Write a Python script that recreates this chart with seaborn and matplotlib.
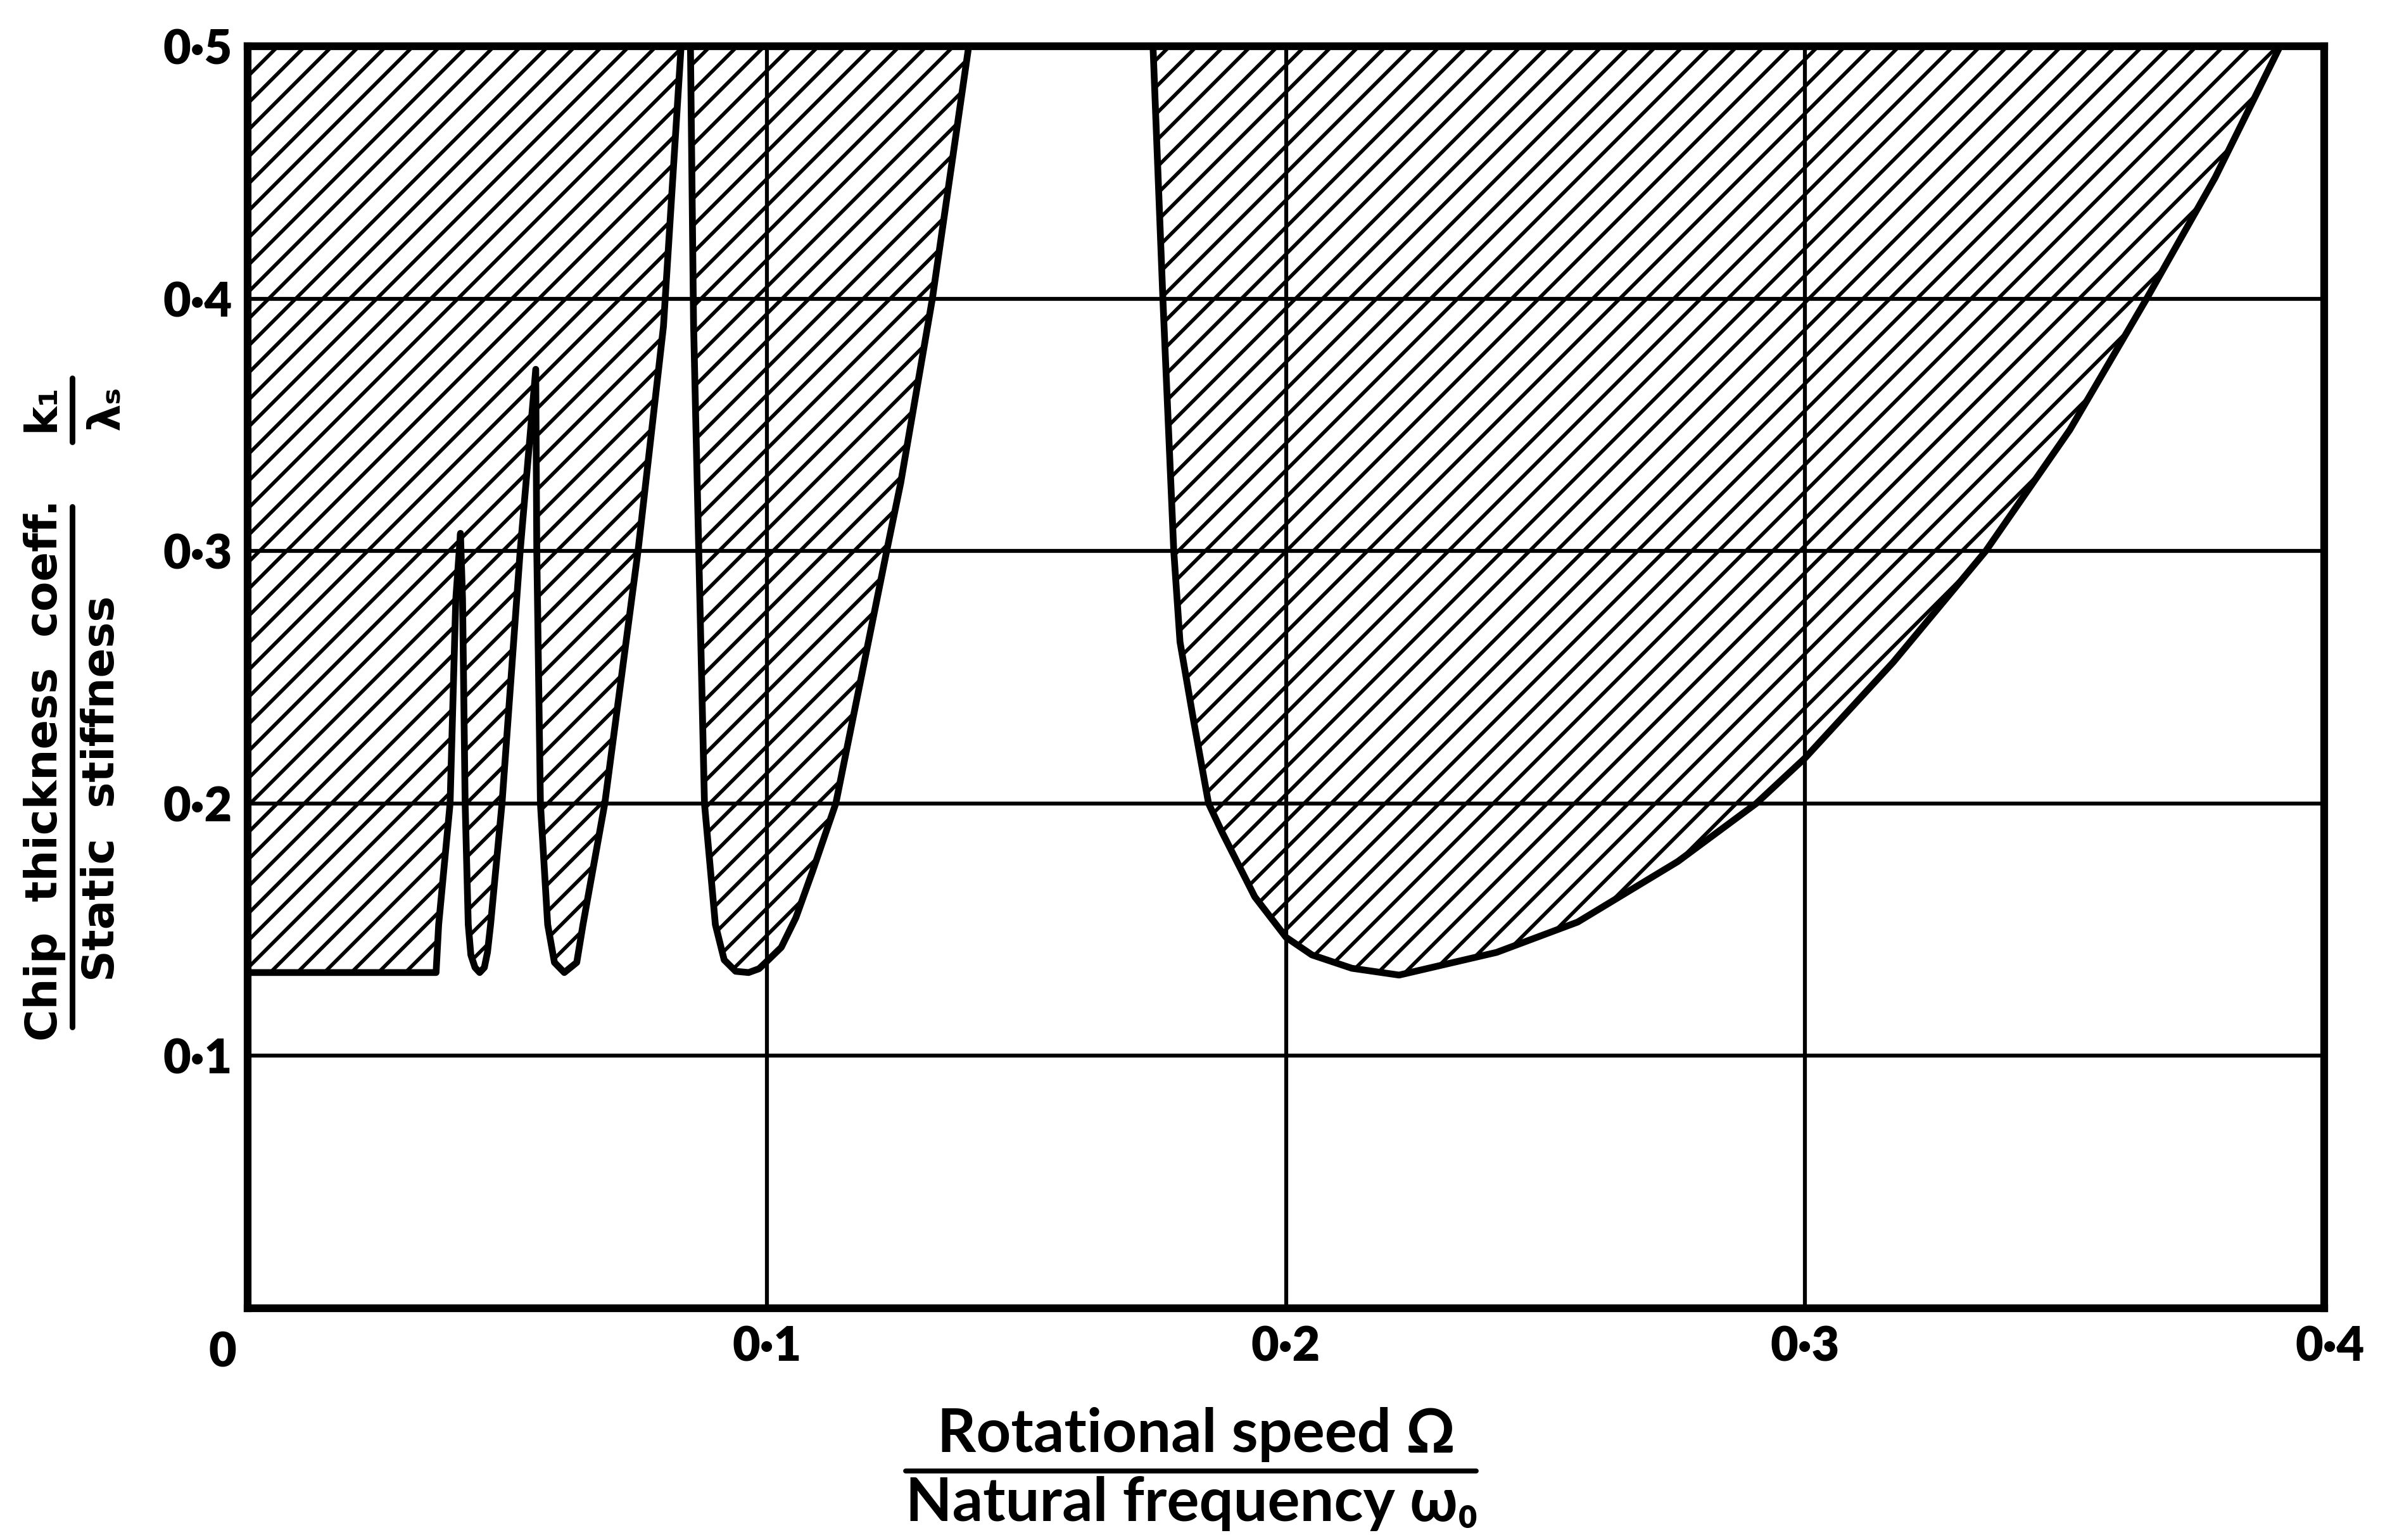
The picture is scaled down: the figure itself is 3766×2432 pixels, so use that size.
import matplotlib
matplotlib.use("Agg")
import matplotlib.pyplot as plt
import matplotlib.transforms as mtransforms
from matplotlib.lines import Line2D
import seaborn as sns
import pandas as pd

# ---------------- data ----------------
# boundary of the unstable (hatched) region, lobe by lobe
# flat asymptote + first two narrow lobes, ending where the curve leaves the chart
lobe_ab_x = [0.0, 0.0363, 0.0368, 0.0390, 0.0401, 0.0410, 0.0414, 0.0419, 0.0425,
             0.0430, 0.0438, 0.0447, 0.0456, 0.0462, 0.0468, 0.0490, 0.0525, 0.0555,
             0.0557, 0.0564, 0.0578, 0.0591, 0.0610, 0.0634, 0.0646, 0.0688, 0.0752,
             0.0801, 0.0835]
lobe_ab_y = [0.133, 0.133, 0.152, 0.200, 0.281, 0.307, 0.281, 0.200, 0.152,
             0.140, 0.135, 0.133, 0.135, 0.141, 0.152, 0.200, 0.300, 0.372,
             0.300, 0.200, 0.152, 0.137, 0.133, 0.137, 0.152, 0.200, 0.300,
             0.389, 0.500]
# third lobe
lobe_c_x = [0.0853, 0.0859, 0.0869, 0.0880, 0.0901, 0.0918, 0.0940, 0.0965, 0.0985,
            0.1000, 0.1028, 0.1056, 0.1088, 0.1133, 0.1231, 0.1258, 0.1319, 0.1389]
lobe_c_y = [0.500, 0.390, 0.300, 0.200, 0.152, 0.138, 0.1335, 0.133, 0.1345,
            0.1374, 0.143, 0.1547, 0.173, 0.200, 0.300, 0.327, 0.400, 0.500]
# main (widest) lobe
lobe_d_x = [0.1744, 0.1763, 0.1784, 0.1796, 0.1822, 0.1851, 0.1877, 0.1940, 0.2000,
            0.2050, 0.2127, 0.2218, 0.2406, 0.2562, 0.2755, 0.2906, 0.3000, 0.3170,
            0.3348, 0.3510, 0.3658, 0.3790, 0.3915]
lobe_d_y = [0.500, 0.400, 0.300, 0.264, 0.233, 0.200, 0.1886, 0.163, 0.147,
            0.140, 0.1347, 0.132, 0.141, 0.153, 0.177, 0.200, 0.218, 0.256,
            0.300, 0.348, 0.400, 0.448, 0.500]

x_ticks = [0.0, 0.1, 0.2, 0.3, 0.4]
x_tick_labels = ["0", "0·1", "0·2", "0·3", "0·4"]
y_ticks = [0.1, 0.2, 0.3, 0.4, 0.5]
y_tick_labels = ["0·1", "0·2", "0·3", "0·4", "0·5"]

x_num_label = "Rotational speed Ω"
x_den_label = "Natural frequency ω₀"
y_num_label = "Chip  thickness  coeff."
y_den_label = "Static  stiffness"
y_sym_num = "k₁"
y_sym_den = "λₛ"

# ---------------- styling ----------------
DPI = 128
S = 160 / DPI          # point sizes below were tuned at 160 dpi

sns.set_theme(style="white")
plt.rcParams["font.family"] = ["Lato", "DejaVu Sans"]
plt.rcParams["hatch.linewidth"] = 2.6 * S

fig = plt.figure(figsize=(3766 / DPI, 2432 / DPI), dpi=DPI)
fig.patch.set_facecolor("white")
ax = fig.add_axes([391 / 3766, 1 - 2066 / 2432, (3670 - 391) / 3766, (2066 - 73) / 2432])
ax.set_facecolor("white")

lobes = [(lobe_ab_x, lobe_ab_y), (lobe_c_x, lobe_c_y), (lobe_d_x, lobe_d_y)]
for lx, ly in lobes:
    df = pd.DataFrame({"x": lx, "y": ly})
    ax.fill_between(df["x"], df["y"], 0.5, facecolor="none", edgecolor="black",
                    hatch="/", linewidth=0, zorder=1)
    sns.lineplot(data=df, x="x", y="y", sort=False, estimator=None, ax=ax,
                 color="black", linewidth=4.8 * S, zorder=4,
                 solid_joinstyle="round", solid_capstyle="round")

ax.set_xlim(0, 0.4)
ax.set_ylim(0, 0.5)
ax.set_xticks(x_ticks)
ax.set_yticks(y_ticks)
ax.set_xticklabels(x_tick_labels)
ax.set_yticklabels(y_tick_labels)
ax.grid(True, color="black", linewidth=2.8 * S)
ax.set_axisbelow(True)
ax.tick_params(axis="both", length=0, labelsize=34 * S, colors="black")
ax.tick_params(axis="x", pad=12 * S)
ax.tick_params(axis="y", pad=11 * S)
for lab in ax.get_xticklabels() + ax.get_yticklabels():
    lab.set_fontweight("heavy")
for sp in ax.spines.values():
    sp.set_visible(True)
    sp.set_color("black")
    sp.set_linewidth(5.5 * S)
ax.set_xlabel("")
ax.set_ylabel("")

# shift the "0" and "0·4" x labels like in the reference
xl = ax.get_xticklabels()
xl[0].set_transform(xl[0].get_transform() +
                    mtransforms.ScaledTranslation(-18 * S / 72, -4 * S / 72, fig.dpi_scale_trans))
xl[-1].set_transform(xl[-1].get_transform() +
                     mtransforms.ScaledTranslation(4 * S / 72, 0, fig.dpi_scale_trans))

# ---------------- x label as a fraction ----------------
fig.text(0.5015, 0.0685, x_num_label, ha="center", va="center", fontsize=43 * S,
         fontweight="bold", color="black")
fig.add_artist(Line2D([0.3797, 0.6190], [0.045, 0.045], transform=fig.transFigure,
                      color="black", linewidth=3.5 * S))
fig.text(0.4998, 0.0235, x_den_label, ha="center", va="center", fontsize=43 * S,
         fontweight="bold", color="black")

# ---------------- y label as a fraction ----------------
yfont = ["Liberation Sans Narrow", "DejaVu Sans"]
fig.text(0.0186, 0.500, y_num_label, rotation=90, ha="center", va="center",
         fontsize=31 * S, fontweight="bold", family=yfont, color="black")
fig.add_artist(Line2D([0.0304, 0.0304], [0.333, 0.671], transform=fig.transFigure,
                      color="black", linewidth=4 * S))
fig.text(0.0425, 0.488, y_den_label, rotation=90, ha="center", va="center",
         fontsize=31 * S, fontweight="bold", family=yfont, color="black")

fig.text(0.0175, 0.735, y_sym_num, rotation=90, ha="center", va="center",
         fontsize=31 * S, fontweight="bold", family=yfont, color="black")
fig.add_artist(Line2D([0.0304, 0.0304], [0.713, 0.7545], transform=fig.transFigure,
                      color="black", linewidth=4 * S))
fig.text(0.0445, 0.735, y_sym_den, rotation=90, ha="center", va="center",
         fontsize=31 * S, fontweight="bold", family=yfont, color="black")

fig.savefig("out.png", dpi=DPI, facecolor="white")
